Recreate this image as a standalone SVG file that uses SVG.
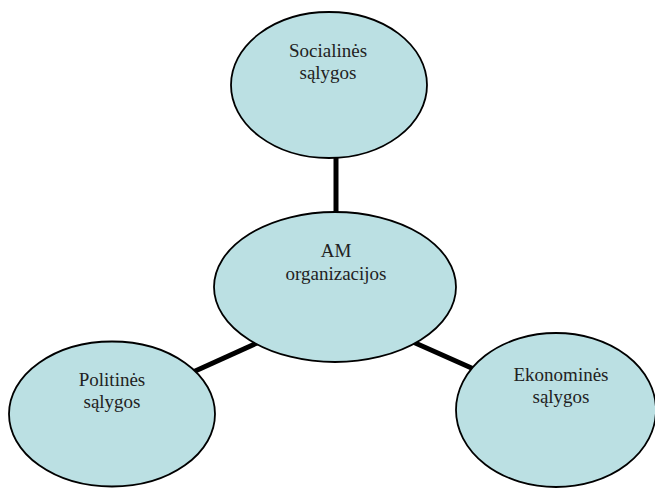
<svg xmlns="http://www.w3.org/2000/svg" width="655" height="488" viewBox="0 0 655 488">
<style>
.node ellipse{fill:#BBE0E3;stroke:#000;stroke-width:1.8}
.node text{font-family:"Liberation Serif","Times New Roman",serif;font-size:19px;fill:#222;text-anchor:middle}
.conn line{stroke:#000;stroke-width:5}
</style>
<rect width="655" height="488" fill="#fff"/>
<g id="connectors" class="conn">
<line x1="336" y1="155" x2="336" y2="215"/>
<line x1="193" y1="372" x2="257" y2="343"/>
<line x1="413" y1="342" x2="476" y2="370"/>
</g>
<g id="socialines" class="node">
<ellipse cx="329" cy="85" rx="98" ry="73"/>
<text x="328" y="57">Socialinės</text>
<text x="328" y="79">sąlygos</text>
</g>
<g id="am" class="node">
<ellipse cx="335" cy="287" rx="121" ry="75"/>
<text x="336" y="257">AM</text>
<text x="336" y="280">organizacijos</text>
</g>
<g id="politines" class="node">
<ellipse cx="112" cy="414" rx="103" ry="72.5"/>
<text x="112" y="386">Politinės</text>
<text x="112" y="408">sąlygos</text>
</g>
<g id="ekonomines" class="node">
<ellipse cx="556" cy="410" rx="100" ry="77"/>
<text x="561" y="381">Ekonominės</text>
<text x="561" y="403">sąlygos</text>
</g>
</svg>
